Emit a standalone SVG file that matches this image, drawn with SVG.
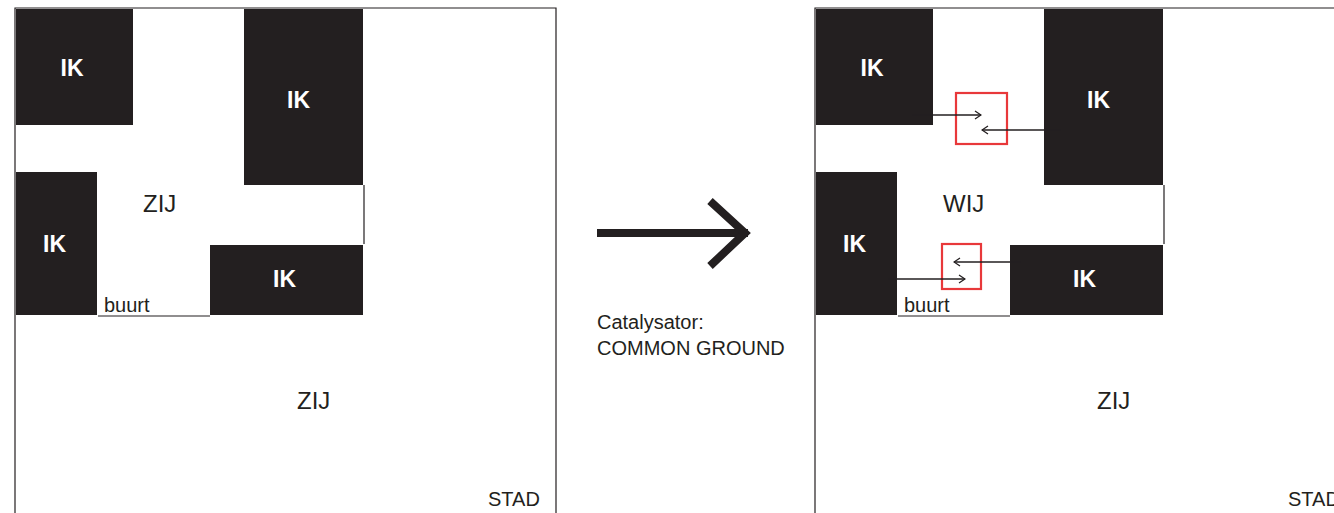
<svg xmlns="http://www.w3.org/2000/svg" width="1334" height="513" viewBox="0 0 1334 513">
<style>
.blk{fill:#231f20}
.ik{font-family:"Liberation Sans",Arial,sans-serif;font-weight:bold;font-size:23px;fill:#fff;text-anchor:middle}
.big{font-family:"Liberation Sans",Arial,sans-serif;font-size:24px;fill:#231f20}
.sm{font-family:"Liberation Sans",Arial,sans-serif;font-size:20px;fill:#231f20}
.ln{stroke:#231f20;stroke-width:1.2;fill:none}
.red{fill:none;stroke:#e8383a;stroke-width:2.2}
.arr{stroke:#231f20;stroke-width:1.3;fill:none;marker-end:url(#hd)}
</style>
<defs>
<marker id="hd" viewBox="0 0 8 10" refX="7" refY="5" markerWidth="8" markerHeight="10" markerUnits="userSpaceOnUse" orient="auto">
<path d="M1,1 L7,5 L1,9" fill="none" stroke="#231f20" stroke-width="1.3"/>
</marker>
</defs>
<rect width="1334" height="513" fill="#fff"/>

<g id="panel-left">
  <g id="frame-left">
    <path class="ln" d="M15,513 V8 H556 V513"/>
    <path class="ln" d="M364,185 V244"/>
    <path class="ln" d="M98,316 H210"/>
  </g>
  <g id="ik-l1"><rect class="blk" x="16" y="9" width="117" height="116"/><text class="ik" x="72" y="76">IK</text></g>
  <g id="ik-l2"><rect class="blk" x="244" y="9" width="119" height="176"/><text class="ik" x="298.5" y="108">IK</text></g>
  <g id="ik-l3"><rect class="blk" x="16" y="172" width="81" height="143"/><text class="ik" x="54.5" y="252">IK</text></g>
  <g id="ik-l4"><rect class="blk" x="210" y="245" width="153" height="70"/><text class="ik" x="284.5" y="287">IK</text></g>
  <text class="big" x="143" y="212">ZIJ</text>
  <text class="sm" x="104" y="312">buurt</text>
  <text class="big" x="297" y="409">ZIJ</text>
  <text class="sm" x="488" y="506">STAD</text>
</g>

<g id="transition">
  <path d="M597,233 H748" stroke="#231f20" stroke-width="8" fill="none"/>
  <path d="M710,201 L745,233 L710,266" stroke="#231f20" stroke-width="8" fill="none"/>
  <text class="sm" x="597" y="329">Catalysator:</text>
  <text class="sm" x="597" y="355">COMMON GROUND</text>
</g>

<g id="panel-right">
  <g id="frame-right">
    <path class="ln" d="M815,513 V8 H1356 V513"/>
    <path class="ln" d="M1164,185 V244"/>
    <path class="ln" d="M898,316 H1010"/>
  </g>
  <g id="ik-r1"><rect class="blk" x="816" y="9" width="117" height="116"/><text class="ik" x="872" y="76">IK</text></g>
  <g id="ik-r2"><rect class="blk" x="1044" y="9" width="119" height="176"/><text class="ik" x="1098.5" y="108">IK</text></g>
  <g id="ik-r3"><rect class="blk" x="816" y="172" width="81" height="143"/><text class="ik" x="854.5" y="252">IK</text></g>
  <g id="ik-r4"><rect class="blk" x="1010" y="245" width="153" height="70"/><text class="ik" x="1084.5" y="287">IK</text></g>
  <g id="cg-top"><rect class="red" x="956" y="93" width="51" height="51"/></g>
  <g id="cg-bottom"><rect class="red" x="942" y="244" width="39" height="45"/></g>
  <g id="connectors">
    <line class="arr" x1="912" y1="115" x2="981" y2="115"/>
    <line class="arr" x1="1061" y1="130" x2="982" y2="130"/>
    <line class="arr" x1="1021" y1="262" x2="954" y2="262"/>
    <line class="arr" x1="888" y1="279" x2="965" y2="279"/>
  </g>
  <text class="big" x="943" y="212">WIJ</text>
  <text class="sm" x="904" y="312">buurt</text>
  <text class="big" x="1097" y="409">ZIJ</text>
  <text class="sm" x="1288" y="506">STAD</text>
</g>
</svg>
